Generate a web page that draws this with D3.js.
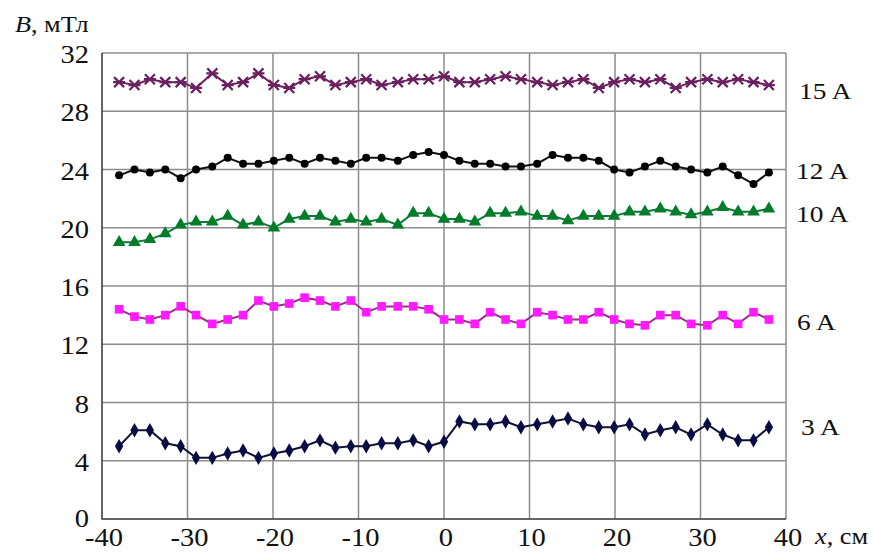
<!DOCTYPE html>
<html>
<head>
<meta charset="utf-8">
<script src="https://cdn.jsdelivr.net/npm/d3@7"></script>
<style>
  body { margin: 0; background: #fff; }
  text { font-family: "Liberation Serif", "Times New Roman", serif; fill: #111; }
</style>
</head>
<body>
<div id="chart"></div>
<script>
let width = 874;
let height = 553;

// x positions of the measurement points, cm
let xs = [-38, -36.2, -34.4, -32.6, -30.8, -29, -27.1, -25.3, -23.5, -21.7, -19.9,
          -18.1, -16.3, -14.5, -12.7, -10.9, -9.1, -7.3, -5.4, -3.6, -1.8, 0,
          1.8, 3.6, 5.4, 7.2, 9, 10.9, 12.7, 14.5, 16.3, 18.1, 19.9, 21.7,
          23.5, 25.3, 27.1, 28.9, 30.8, 32.6, 34.4, 36.2, 38];

// B values, mT
let b15 = [30.0, 29.8, 30.2, 30.0, 30.0, 29.6, 30.6, 29.8, 30.0, 30.6, 29.8,
           29.6, 30.2, 30.4, 29.8, 30.0, 30.2, 29.8, 30.0, 30.2, 30.2, 30.4,
           30.0, 30.0, 30.2, 30.4, 30.2, 30.0, 29.8, 30.0, 30.2, 29.6, 30.0,
           30.2, 30.0, 30.2, 29.6, 30.0, 30.2, 30.0, 30.2, 30.0, 29.8];
let b12 = [23.6, 24.0, 23.8, 24.0, 23.4, 24.0, 24.2, 24.8, 24.4, 24.4, 24.6,
           24.8, 24.4, 24.8, 24.6, 24.4, 24.8, 24.8, 24.6, 25.0, 25.2, 25.0,
           24.6, 24.4, 24.4, 24.2, 24.2, 24.4, 25.0, 24.8, 24.8, 24.6, 24.0,
           23.8, 24.2, 24.6, 24.2, 24.0, 23.8, 24.2, 23.6, 23.0, 23.8];
let b10 = [19.0, 19.0, 19.2, 19.6, 20.2, 20.4, 20.4, 20.8, 20.2, 20.4, 20.0,
           20.6, 20.8, 20.8, 20.4, 20.6, 20.4, 20.6, 20.2, 21.0, 21.0, 20.6,
           20.6, 20.4, 21.0, 21.0, 21.1, 20.8, 20.8, 20.5, 20.8, 20.8, 20.8,
           21.1, 21.1, 21.3, 21.1, 20.9, 21.1, 21.4, 21.1, 21.1, 21.3];
let b6 = [14.4, 13.9, 13.7, 14.0, 14.6, 14.0, 13.4, 13.7, 14.0, 15.0, 14.6,
          14.8, 15.2, 15.0, 14.6, 15.0, 14.2, 14.6, 14.6, 14.6, 14.4, 13.7,
          13.7, 13.4, 14.2, 13.7, 13.4, 14.2, 14.0, 13.7, 13.7, 14.2, 13.7,
          13.4, 13.3, 14.0, 14.0, 13.4, 13.3, 14.0, 13.4, 14.2, 13.7];
let b3 = [5.0, 6.1, 6.1, 5.2, 5.0, 4.2, 4.2, 4.5, 4.7, 4.2, 4.5,
          4.7, 5.0, 5.4, 4.9, 5.0, 5.0, 5.2, 5.2, 5.4, 5.0, 5.3,
          6.7, 6.5, 6.5, 6.7, 6.3, 6.5, 6.7, 6.9, 6.5, 6.3, 6.3,
          6.5, 5.8, 6.1, 6.3, 5.8, 6.5, 5.8, 5.4, 5.4, 6.3];

let xTicks = [-40, -30, -20, -10, 0, 10, 20, 30, 40];
let yTicks = [0, 4, 8, 12, 16, 20, 24, 28, 32];

let seriesNames = ["15 A", "12 A", "10 A", "6 A", "3 A"];
// where the right-hand labels sit, in B units
let labelY = [29.45, 23.9, 20.95, 13.55, 6.35];

let series = [
  {name: "15 A", vals: b15, line: "#6a1f5f", fill: "#6a1f5f", sym: "star"},
  {name: "12 A", vals: b12, line: "#111", fill: "#000", sym: "circle"},
  {name: "10 A", vals: b10, line: "#0b7a32", fill: "#007c2a", sym: "triangle"},
  {name: "6 A", vals: b6, line: "#a0288f", fill: "#ff1aff", sym: "square"},
  {name: "3 A", vals: b3, line: "#111133", fill: "#0b0b45", sym: "diamond"}
];

// the scanned figure's lettering is a bit wider than Times
let stretch = 1.14;
function place(px, py) {
  return "translate(" + px + "," + py + ") scale(" + stretch + ",1)";
}

let x = d3.scaleLinear().domain([-40, 40]).range([102, 786]);
let y = d3.scaleLinear().domain([0, 32]).range([519, 53]);

let svg = d3.select("#chart").append("svg")
            .attr("width", width)
            .attr("height", height);

// grid
svg.append("g")
   .selectAll("line")
   .data(xTicks.slice(1))
   .join("line")
   .attr("x1", d => x(d)).attr("x2", d => x(d))
   .attr("y1", y(32)).attr("y2", y(0))
   .attr("stroke", "#8c8c8c").attr("stroke-width", 1.5);

svg.append("g")
   .selectAll("line")
   .data(yTicks.slice(1))
   .join("line")
   .attr("x1", x(-40)).attr("x2", x(40))
   .attr("y1", d => y(d)).attr("y2", d => y(d))
   .attr("stroke", "#8c8c8c").attr("stroke-width", 1.5);

// axis lines
svg.append("path")
   .attr("d", "M" + x(-40) + "," + y(32) + "V" + y(0) + "H" + x(40))
   .attr("fill", "none")
   .attr("stroke", "#333")
   .attr("stroke-width", 1.5);

// tick labels
svg.append("g")
   .selectAll("text")
   .data(xTicks)
   .join("text")
   .attr("transform", d => place(x(d) + 2, y(0) + 9))
   .attr("dy", "0.71em")
   .attr("text-anchor", "middle")
   .style("font-size", "25px")
   .text(d => String(d));

svg.append("g")
   .selectAll("text")
   .data(yTicks)
   .join("text")
   .attr("transform", d => place(x(-40) - 13, y(d)))
   .attr("dy", d => d === 0 ? "0.3em" : "0.4em")
   .attr("text-anchor", "end")
   .style("font-size", "25px")
   .text(d => String(d));

// axis titles
let yt = svg.append("text").attr("transform", place(15, 32)).style("font-size", "23px");
yt.append("tspan").style("font-style", "italic").text("B");
yt.append("tspan").text(", мТл");

let xt = svg.append("text").attr("transform", place(815, 544)).style("font-size", "23px");
xt.append("tspan").style("font-style", "italic").text("x");
xt.append("tspan").text(", см");

// series
let line = d3.line().x((d, i) => x(xs[i])).y(d => y(d));

let symbols = {
  circle: d3.symbol().type(d3.symbolCircle).size(50),
  triangle: d3.symbol().type(d3.symbolTriangle).size(70),
  square: d3.symbol().type(d3.symbolSquare).size(75),
  diamond: d3.symbol().type(d3.symbolDiamond).size(60)
};

for (let s of series) {
  let g = svg.append("g");
  g.append("path")
   .attr("d", line(s.vals))
   .attr("fill", "none")
   .attr("stroke", s.line)
   .attr("stroke-width", 2);

  let pts = g.selectAll("g")
   .data(s.vals)
   .join("g")
   .attr("transform", (d, i) => "translate(" + x(xs[i]) + "," + y(d) + ")");

  if (s.sym === "star") {
    pts.append("path")
       .attr("d", "M-5,-5L5,5M-5,5L5,-5M-6,0L6,0")
       .attr("stroke", s.fill)
       .attr("stroke-width", 2.2);
  } else {
    pts.append("path")
       .attr("d", symbols[s.sym]())
       .attr("fill", s.fill);
  }
}

// series labels on the right
let labelX = [799, 796, 796, 797, 801];
svg.append("g")
   .selectAll("text")
   .data(seriesNames)
   .join("text")
   .attr("transform", (d, i) => place(labelX[i], y(labelY[i])))
   .attr("dy", "0.35em")
   .style("font-size", "24px")
   .text(d => d);
</script>
</body>
</html>
